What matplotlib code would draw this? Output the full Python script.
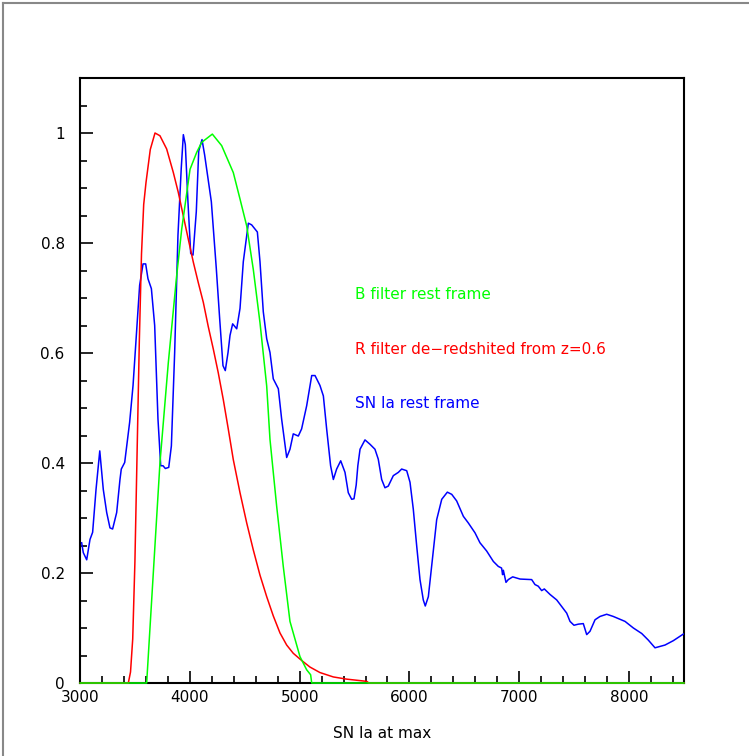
import numpy as np
import matplotlib.pyplot as plt
from matplotlib.lines import Line2D

# B filter (rest frame)
b_wave = [3000, 3607, 3728, 3804, 3880, 3926, 4002, 4063, 4108, 4205, 4290, 4396, 4457,
          4518, 4578, 4639, 4700, 4730, 4791, 4851, 4912, 5003, 5064, 5100, 5110, 8500]
b_resp = [0.0, 0.0, 0.40, 0.582, 0.740, 0.825, 0.934, 0.965, 0.983, 0.998, 0.977, 0.928,
          0.880, 0.831, 0.752, 0.655, 0.540, 0.443, 0.321, 0.212, 0.112, 0.048, 0.024,
          0.015, 0.0, 0.0]

# R filter de-redshifted from z=0.6
r_wave = [3000, 3440, 3460, 3480, 3500, 3520, 3540, 3560, 3580, 3601, 3640, 3683, 3728,
          3789, 3850, 3895, 3941, 3986, 4032, 4077, 4123, 4168, 4214, 4259, 4305, 4350,
          4396, 4457, 4518, 4578, 4639, 4700, 4760, 4821, 4882, 4942, 5018, 5094, 5185,
          5307, 5429, 5611, 5630, 8500]
r_resp = [0.0, 0.0, 0.02, 0.08, 0.22, 0.42, 0.62, 0.78, 0.87, 0.91, 0.97, 1.0, 0.995,
          0.971, 0.928, 0.892, 0.849, 0.807, 0.765, 0.728, 0.692, 0.648, 0.607, 0.564,
          0.515, 0.462, 0.406, 0.346, 0.291, 0.242, 0.196, 0.157, 0.122, 0.091, 0.069,
          0.054, 0.041, 0.029, 0.019, 0.011, 0.007, 0.003, 0.0, 0.0]

# SN Ia spectrum at max (rest frame)
sn_wave = [3015, 3030, 3061, 3091, 3115, 3146, 3180, 3212, 3243, 3273, 3297, 3334, 3364,
           3376, 3407, 3452, 3483, 3513, 3543, 3574, 3598, 3619, 3650, 3680, 3710, 3735,
           3756, 3777, 3808, 3832, 3862, 3892, 3922, 3941, 3959, 3983, 4008, 4029, 4059,
           4081, 4111, 4135, 4196, 4241, 4272, 4302, 4323, 4348, 4366, 4390, 4427, 4457,
           4487, 4533, 4563, 4615, 4639, 4669, 4700, 4730, 4760, 4806, 4836, 4882, 4912,
           4942, 4988, 5018, 5064, 5110, 5140, 5185, 5216, 5246, 5282, 5307, 5337, 5374,
           5413, 5443, 5474, 5495, 5515, 5530, 5550, 5595, 5641, 5686, 5716, 5747, 5777,
           5807, 5853, 5899, 5929, 5975, 6005, 6035, 6066, 6096, 6126, 6144, 6172, 6202,
           6248, 6294, 6345, 6385, 6430, 6491, 6536, 6597, 6642, 6703, 6764, 6809, 6839,
           6848, 6855, 6879, 6900, 6940, 7007, 7113, 7143, 7173, 7204, 7228, 7280, 7341,
           7386, 7432, 7462, 7498, 7538, 7583, 7614, 7644, 7690, 7735, 7796, 7856, 7963,
           8039, 8115, 8175, 8236, 8327, 8403, 8494]
sn_flux = [0.255, 0.237, 0.224, 0.261, 0.274, 0.352, 0.422, 0.352, 0.310, 0.282, 0.280,
           0.310, 0.370, 0.389, 0.401, 0.474, 0.541, 0.632, 0.723, 0.762, 0.762, 0.735,
           0.717, 0.650, 0.480, 0.395, 0.395, 0.390, 0.392, 0.431, 0.601, 0.814, 0.936,
           0.997, 0.979, 0.875, 0.781, 0.778, 0.857, 0.967, 0.988, 0.960, 0.875, 0.754,
           0.662, 0.577, 0.568, 0.601, 0.632, 0.653, 0.644, 0.681, 0.766, 0.836, 0.833,
           0.820, 0.766, 0.675, 0.626, 0.601, 0.553, 0.535, 0.480, 0.410, 0.425, 0.453,
           0.449, 0.462, 0.504, 0.559, 0.559, 0.541, 0.522, 0.462, 0.395, 0.370, 0.389,
           0.404, 0.383, 0.346, 0.334, 0.335, 0.360, 0.395, 0.425, 0.442, 0.434, 0.425,
           0.407, 0.370, 0.355, 0.358, 0.377, 0.383, 0.389, 0.386, 0.365, 0.316, 0.249,
           0.188, 0.151, 0.140, 0.157, 0.212, 0.297, 0.334, 0.347, 0.343, 0.331, 0.303,
           0.291, 0.273, 0.255, 0.240, 0.221, 0.212, 0.209, 0.197, 0.205, 0.183, 0.188,
           0.193, 0.189, 0.188, 0.179, 0.176, 0.168, 0.171, 0.161, 0.151, 0.139, 0.127,
           0.112, 0.105, 0.107, 0.108, 0.088, 0.094, 0.115, 0.121, 0.125, 0.121, 0.112,
           0.100, 0.090, 0.078, 0.064, 0.069, 0.077, 0.089]

y_ticks = [0, 0.2, 0.4, 0.6, 0.8, 1.0]
y_tick_labels = ["0", "0.2", "0.4", "0.6", "0.8", "1"]
x_ticks = [3000, 4000, 5000, 6000, 7000, 8000]

fig = plt.figure(figsize=(7.49, 7.56), dpi=100)
ax = fig.add_axes([80 / 749, 73 / 756, 604 / 749, 605 / 756])

ax.plot(sn_wave, sn_flux, color="#0000ff", lw=1.1, zorder=3)
ax.plot(r_wave, r_resp, color="#ff0000", lw=1.1, zorder=3, clip_on=False)
ax.plot(b_wave, b_resp, color="#00ff00", lw=1.1, zorder=3, clip_on=False)

ax.set_xlim(3000, 8500)
ax.set_ylim(0, 1.1)

ax.set_xticks(x_ticks)
ax.set_xticks(np.arange(3000, 8501, 200), minor=True)
ax.set_yticks(y_ticks)
ax.set_yticklabels(y_tick_labels)
ax.set_yticks(np.arange(0, 1.1, 0.05), minor=True)
ax.tick_params(which="both", direction="in", top=False, right=False, width=1.2)
ax.tick_params(which="major", length=9, labelsize=11)
ax.tick_params(which="minor", length=5)
ax.tick_params(axis="x", pad=5)
ax.tick_params(axis="y", pad=11)
for s in ax.spines.values():
    s.set_linewidth(1.5)

ax.set_xlabel("SN Ia at max", fontsize=11, va="center")
ax.xaxis.set_label_coords(0.5, -50 / 605)

ax.text(5500, 0.707, "B filter rest frame", color="#00ff00", fontsize=11, va="center")
ax.text(5500, 0.607, "R filter de\u2212redshited from z=0.6", color="#ff0000", fontsize=11, va="center")
ax.text(5500, 0.509, "SN Ia rest frame", color="#0000ff", fontsize=11, va="center")

# canvas border (top and left edges)
fig.add_artist(Line2D([3 / 749, 1], [1 - 3 / 756, 1 - 3 / 756], color="#888888", lw=1.5))
fig.add_artist(Line2D([3 / 749, 3 / 749], [0, 1 - 3 / 756], color="#888888", lw=1.5))

fig.savefig("out.png", dpi=100)
